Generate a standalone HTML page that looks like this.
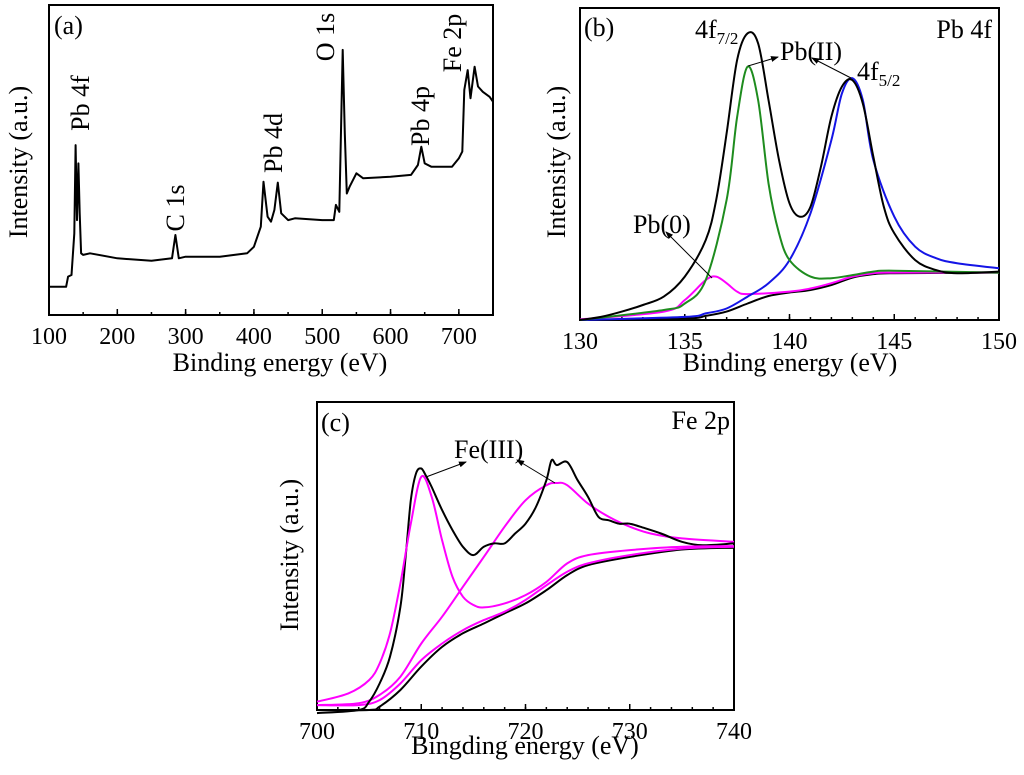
<!DOCTYPE html>
<html><head><meta charset="utf-8"><style>
body{margin:0;background:#fff}
svg{display:block;font-family:"Liberation Serif",serif}
</style></head><body>
<svg id="fig" width="1024" height="775" viewBox="0 0 1024 775">
<defs><marker id="ah" markerWidth="8" markerHeight="6" refX="7" refY="3" orient="auto"><path d="M0,0 L8,3 L0,6 z" fill="#000"/></marker></defs>
</svg>
<script>
// Panel (a) survey
const aEnergy=[100,125,128,133,137,139,141,143,145,147,150,160,200,250,280,285,290,300,350,390,400,410,414,420,425,430,435,440,450,460,500,517,520,525,530,533,536,540,550,560,600,630,640,645,650,660,690,700,705,708,713,717,723,728,735,745,750];
const aInt=[9.1,9.1,12.4,12.9,26.3,54.8,30.6,48.9,32.8,19.9,19.4,19.9,18.3,17.5,18.3,25.8,18.3,18.8,18.8,19.9,22,28.5,43,31.7,30.1,33.9,42.7,32.8,30.6,31.2,30.6,30.6,35.5,33.3,85.5,58.6,39.2,41.4,45.7,44.1,44.6,45.2,48.4,54.3,48.9,47.8,47.8,50.5,52.7,72.6,79,69.9,80.1,73.7,72,70.4,68.8];
const aTicks=[100,200,300,400,500,600,700];
// Panel (b) Pb 4f
const bData=[[130,0],[131,1],[132,2.7],[133,4.8],[134,7.5],[135,13.9],[136,25.6],[136.5,38.5],[137,59.8],[137.5,83.3],[138,91.9],[138.5,88.7],[139,70.5],[139.5,51.3],[140,37.4],[140.5,33.1],[141,36.3],[141.5,49.1],[142,65.2],[142.5,74.8],[143,76.9],[143.5,69.4],[144,52.4],[144.5,36.3],[145,27.8],[146,19.2],[147,16],[148,15],[150,15.5]];
const bGreen=[[130,0],[134,3.2],[135,5.3],[136,12.8],[137,38.5],[137.5,65],[138,81.2],[138.5,70.5],[139,43.8],[139.5,27.8],[140,19.2],[141,13.9],[142,13.4],[143,14.4],[144,15.5],[145,15.8],[150,15.2]];
const bBlue=[[130,0],[135,1],[136,2.1],[137,3.7],[138,7.5],[139,11.8],[140,19.2],[141,34.2],[142,57.7],[142.5,72.6],[143,77.5],[143.5,70.5],[144,51.3],[145,33.1],[146,23.5],[147,19.8],[148,18.2],[150,16.6]];
const bMag=[[130,0.2],[134,2.7],[135,6.4],[136,12.8],[136.5,13.9],[137,11.8],[137.5,9.1],[138,8.3],[140,9.1],[141,10.1],[142,11.8],[143,13.9],[144,15],[145,15.2],[150,15.2]];
const bBg=[[130,0],[135,0.5],[136,1.3],[137,2.7],[138,5.3],[139,7.7],[140,8.8],[141,9.6],[142,11.2],[143,13.6],[144,14.7],[145,15],[150,15.2]];
const bTicks=[130,135,140,145,150];
// Panel (c) Fe 2p
const cData=[[700,-1],[704,0],[705,2.7],[706,8.6],[707,17.3],[708,33.5],[708.5,49.7],[709,68.1],[709.5,76.8],[710,78.4],[710.5,75.7],[711,72.4],[712,64.9],[713,58.4],[714,53],[715,50.3],[716,53],[717,54.1],[718,54.1],[719,57.3],[720,60.5],[721,65.9],[722,74.6],[722.5,81.1],[723,79.5],[724,80.5],[725,74.6],[726,69.2],[727,62.7],[728,61.6],[729,60.5],[730,60.5],[731,59.5],[733,57.3],[735,54.6],[737,53.5],[740,54.1]];
const cPeak1=[[700,2.7],[703,5.4],[705,9.7],[706,15.1],[707,24.9],[708,41.1],[709,60.5],[710,75.7],[711,69.2],[712,55.1],[713,43.2],[714,36.8],[715,34.1],[716,33.3],[718,34.6],[720,37.3],[722,41.6],[724,47.6],[726,50.3],[730,51.9],[735,53],[740,53.2]];
const cPeak2=[[700,1.6],[704,2.2],[706,4.9],[708,10.8],[710,21.6],[712,30.3],[714,40],[716,49.7],[718,59.5],[720,68.1],[722,73],[723,73.7],[724,73],[726,67],[728,62.7],[730,59.5],[732,57.3],[735,55.7],[740,54.6]];
const cMagBg=[[700,1.6],[704,1.6],[706,3.2],[708,8.6],[710,16.2],[712,21.6],[714,25.9],[716,29.2],[718,31.9],[720,35.7],[722,40.5],[724,44.9],[726,47.6],[730,50.3],[735,52.4],[740,53]];
const cBg=[[700,0],[705,0],[706,1.1],[708,6.5],[710,14.1],[712,20.5],[714,24.9],[716,28.1],[718,31.4],[720,34.6],[722,38.9],[724,43.8],[726,47],[730,49.7],[735,52.1],[740,52.7]];
const cTicks=[700,710,720,730,740];

const svg=document.getElementById('fig');
const NS='http://www.w3.org/2000/svg';
function mk(tag,attrs,parent){const e=document.createElementNS(NS,tag);for(const k in attrs)e.setAttribute(k,attrs[k]);(parent||svg).appendChild(e);return e;}
function txt(s,x,y,size,opts,parent){const t=mk('text',Object.assign({x:x,y:y,'font-size':size},opts||{}),parent);t.textContent=s;return t;}

function panel(name,L,R,T,B,x0,x1,ticks,minorStep){
  const g=mk('g',{});
  
  
  const sx=v=>L+(v-x0)/(x1-x0)*(R-L);
  const sy=v=>B-v/100*(B-T);
  const fr=mk('rect',{x:L,y:T,width:R-L,height:B-T,fill:'none',stroke:'#000','stroke-width':2},g);
  
  
  for(let v=x0;v<=x1+1e-9;v+=minorStep){const X=sx(v);mk('line',{x1:X,x2:X,y1:B,y2:B-3,stroke:'#000','stroke-width':1.5},g);}
  ticks.forEach(v=>{const X=sx(v);mk('line',{x1:X,x2:X,y1:B,y2:B-6,stroke:'#000','stroke-width':1.5},g);
    const t=txt(String(v),X,B+29,24,{'text-anchor':'middle'},g);
    
    });
  return {g,sx,sy};
}
function line(p,pts,color,name,w,sharp){
  const P=pts.map(q=>[p.sx(q[0]),p.sy(q[1])]);
  let d='M'+P[0][0].toFixed(1)+','+P[0][1].toFixed(1);
  for(let i=0;i<P.length-1;i++){
    if(sharp){d+=' L'+P[i+1][0].toFixed(1)+','+P[i+1][1].toFixed(1);continue;}
    const p0=P[Math.max(0,i-1)],p1=P[i],p2=P[i+1],p3=P[Math.min(P.length-1,i+2)];
    let c1x=p1[0]+(p2[0]-p0[0])/6,c1y=p1[1]+(p2[1]-p0[1])/6,c2x=p2[0]-(p3[0]-p1[0])/6,c2y=p2[1]-(p3[1]-p1[1])/6;
    c1x=Math.min(Math.max(c1x,p1[0]),p2[0]);c2x=Math.min(Math.max(c2x,p1[0]),p2[0]);
    d+=' C'+c1x.toFixed(1)+','+c1y.toFixed(1)+' '+c2x.toFixed(1)+','+c2y.toFixed(1)+' '+p2[0].toFixed(1)+','+p2[1].toFixed(1);
  }
  const e=mk('path',{d:d,fill:'none',stroke:color,'stroke-width':w||2,'stroke-linejoin':'round'},p.g);
  
  
}
function rot(s,cx,cy,size,name,parent){const t=txt(s,cx,cy,size,{'text-anchor':'middle',transform:'rotate(-90 '+cx+' '+cy+')'},parent);
  
  return t;}
function lab(s,x,y,size,name,anchor,parent){const t=txt(s,x,y,size,{'text-anchor':anchor||'start'},parent);
  
  return t;}
function arrow(x1,y1,x2,y2,name){const e=mk('line',{x1:x1,y1:y1,x2:x2,y2:y2,stroke:'#000','stroke-width':1,'marker-end':'url(#ah)'});
  
  }

// Panel a
const pa=panel('panel-a-survey',49,493,5,315,100,750,aTicks,50);
line(pa,aEnergy.map((e,i)=>[e,aInt[i]]),'#000','survey-spectrum',2,true);
lab('(a)',54,34,26,'panel-a-label');
rot('Intensity (a.u.)',27,162,26,'y-axis-title-a');
lab('Binding energy (eV)',280,371,26,'x-axis-title-a','middle');
rot('Pb 4f',89,103,26,'peak-label-pb4f');
rot('C 1s',184,208,26,'peak-label-c1s');
rot('Pb 4d',282,143,26,'peak-label-pb4d');
rot('O 1s',334,37,26,'peak-label-o1s');
rot('Pb 4p',429,116,26,'peak-label-pb4p');
rot('Fe 2p',461,43,26,'peak-label-fe2p');

// Panel b
const pb=panel('panel-b-pb4f',580,999,8,320,130,150,bTicks,1);
line(pb,bBg,'#000','background-b',2);
line(pb,bMag,'#ff00ff','pb0-fit',2);
line(pb,bBlue,'#1414e6','pb4f52-fit',2);
line(pb,bGreen,'#1e8c1e','pb4f72-fit',2);
line(pb,bData,'#000','pb4f-spectrum',2);
lab('(b)',584,36,26,'panel-b-label');
lab('Pb 4f',992,38,26,'panel-b-title','end');
rot('Intensity (a.u.)',565,162,26,'y-axis-title-b');
lab('Binding energy (eV)',790,371,26,'x-axis-title-b','middle');
const t1=lab('4f',695,38,26,'label-4f72');const s1=mk('tspan',{'font-size':17,dy:6},t1);s1.textContent='7/2';
lab('Pb(II)',780,60,26,'label-pbII');
const t2=lab('4f',857,80,26,'label-4f52');const s2=mk('tspan',{'font-size':17,dy:6},t2);s2.textContent='5/2';
lab('Pb(0)',633,233,26,'label-pb0');
arrow(748,66,778,57,'arrow-pbII-1');
arrow(851,78,812,58,'arrow-pbII-2');
arrow(712,278,666,232,'arrow-pb0');

// Panel c
const pc=panel('panel-c-fe2p',317,734,402,710,700,740,cTicks,2);
line(pc,cBg,'#000','background-c',2);
line(pc,cMagBg,'#ff00ff','fe-background-fit',2);
line(pc,cPeak2,'#ff00ff','fe2p12-fit',2);
line(pc,cData,'#000','fe2p-spectrum',2);
line(pc,cPeak1,'#ff00ff','fe2p32-fit',2);
lab('(c)',321,431,26,'panel-c-label');
lab('Fe 2p',730,429,26,'panel-c-title','end');
rot('Intensity (a.u.)',298,555,26,'y-axis-title-c');
lab('Bingding energy (eV)',525,754,26,'x-axis-title-c','middle');
lab('Fe(III)',454,458,26,'label-feIII');
arrow(426,477,466,462,'arrow-feIII-1');
arrow(555,483,517,460,'arrow-feIII-2');
</script>
</body></html>
